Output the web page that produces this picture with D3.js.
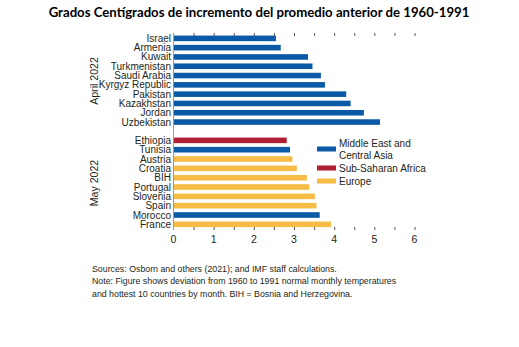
<!DOCTYPE html>
<html>
<head>
<meta charset="utf-8">
<script src="https://cdn.jsdelivr.net/npm/d3@7"></script>
<style>
  html, body { margin: 0; padding: 0; background: #fff; }
  svg { display: block; }
  .lbl { font-family: "Liberation Sans Narrow", "Arial Narrow", "Liberation Sans", sans-serif; fill: #231f20; }
</style>
</head>
<body>
<svg id="chart" width="519" height="347"></svg>
<script>
// Countries and warming values (°C above 1960–1991 average)
const aprilCountries = ["Israel", "Armenia", "Kuwait", "Turkmenistan", "Saudi Arabia",
  "Kyrgyz Republic", "Pakistan", "Kazakhstan", "Jordan", "Uzbekistan"];
const aprilValues = [2.55, 2.67, 3.35, 3.46, 3.67, 3.77, 4.30, 4.41, 4.74, 5.14];
const aprilRegions = ["mecA", "mecA", "mecA", "mecA", "mecA", "mecA", "mecA", "mecA", "mecA", "mecA"];

const mayCountries = ["Ethiopia", "Tunisia", "Austria", "Croatia", "BIH",
  "Portugal", "Slovenia", "Spain", "Morocco", "France"];
const mayValues = [2.82, 2.90, 2.96, 3.07, 3.32, 3.38, 3.52, 3.56, 3.64, 3.92];
const mayRegions = ["ssa", "mecA", "eur", "eur", "eur", "eur", "eur", "eur", "mecA", "eur"];

const regionKeys = ["mecA", "ssa", "eur"];
const regionNames = [["Middle East and", "Central Asia"], ["Sub-Saharan Africa"], ["Europe"]];
const regionColors = ["#0b5aa8", "#b01f33", "#f6bc45"];

const panelNames = ["April 2022", "May 2022"];
const xTicks = [0, 1, 2, 3, 4, 5, 6];
const titleText = "Grados Centígrados de incremento del promedio anterior de 1960-1991";
const noteLines = [
  "Sources: Osborn and others (2021); and IMF staff calculations.",
  "Note: Figure shows deviation from 1960 to 1991 normal monthly temperatures",
  "and hottest 10 countries by month. BIH = Bosnia and Herzegovina."
];

const svg = d3.select("#chart");
const color = d3.scaleOrdinal().domain(regionKeys).range(regionColors);

const x = d3.scaleLinear().domain([0, 6]).range([173.5, 414.5]);

const panels = [
  { name: panelNames[0], countries: aprilCountries, values: aprilValues, regions: aprilRegions, range: [33.7, 126.7], labelY: 81 },
  { name: panelNames[1], countries: mayCountries, values: mayValues, regions: mayRegions, range: [135.7, 229.0], labelY: 183 }
];

// Title
svg.append("text")
  .attr("x", 259).attr("y", 17)
  .attr("text-anchor", "middle")
  .style("font-family", "Lato, 'Open Sans', sans-serif")
  .style("font-weight", "bold")
  .style("font-size", "13.2px")
  .style("fill", "#000")
  .text(titleText);

panels.forEach(p => {
  const y = d3.scaleBand().domain(p.countries).range(p.range).paddingInner(0.4).paddingOuter(0.2);
  const rows = p.countries.map((c, i) => ({ c, v: p.values[i], r: p.regions[i] }));

  svg.append("g").selectAll("rect").data(rows).join("rect")
    .attr("x", x(0))
    .attr("y", d => y(d.c))
    .attr("width", d => x(d.v) - x(0))
    .attr("height", y.bandwidth())
    .attr("fill", d => color(d.r));

  // Category labels
  svg.append("g").selectAll("text").data(rows).join("text")
    .attr("class", "lbl")
    .attr("x", x(0) - 2.5)
    .attr("y", d => y(d.c) + y.bandwidth() / 2)
    .attr("dy", "0.35em")
    .attr("text-anchor", "end")
    .style("font-size", "10px")
    .text(d => d.c);

  // Panel label, rotated
  svg.append("text")
    .attr("class", "lbl")
    .attr("transform", `translate(98,${p.labelY}) rotate(-90)`)
    .attr("text-anchor", "middle")
    .style("font-size", "10.6px")
    .text(p.name);
});

// Vertical zero line
svg.append("line")
  .attr("x1", x(0)).attr("x2", x(0))
  .attr("y1", 33).attr("y2", 230)
  .attr("stroke", "#9a9a9a").attr("stroke-width", 1);

// Half-unit tick marks along the top and bottom
const halfTicks = d3.range(0.5, 6.01, 0.5);
const topAxis = svg.append("g").attr("transform", "translate(0,33)")
  .call(d3.axisTop(x).tickValues(halfTicks).tickSize(-3).tickFormat(""));
topAxis.select(".domain").remove();
topAxis.selectAll("line").attr("stroke", "#555");

const botAxis = svg.append("g").attr("transform", "translate(0,230)")
  .call(d3.axisBottom(x).tickValues(halfTicks).tickSize(-3).tickFormat(""));
botAxis.select(".domain").remove();
botAxis.selectAll("line").attr("stroke", "#555");

// Integer labels on the bottom axis
svg.append("g").selectAll("text").data(xTicks).join("text")
  .attr("class", "lbl")
  .attr("x", d => x(d))
  .attr("y", 239)
  .attr("dy", "0.35em")
  .attr("text-anchor", "middle")
  .style("font-size", "10.5px")
  .text(d => d);

// Legend
const legend = svg.append("g");
let ly = 143;
regionKeys.forEach((k, i) => {
  const lines = regionNames[i];
  const swatchY = ly + (lines.length - 1) * 12 / 2;
  legend.append("rect")
    .attr("x", 317).attr("y", swatchY - 2.5)
    .attr("width", 19).attr("height", 5)
    .attr("fill", color(k));
  lines.forEach((t, j) => {
    legend.append("text")
      .attr("class", "lbl")
      .attr("x", 339).attr("y", ly + j * 12)
      .attr("dy", "0.35em")
      .style("font-size", "10px")
      .text(t);
  });
  ly += lines.length * 12 + 1;
});

// Source and note
svg.append("g").selectAll("text").data(noteLines).join("text")
  .attr("class", "lbl")
  .attr("x", 92)
  .attr("y", (d, i) => 269 + i * 12.3)
  .attr("dy", "0.35em")
  .style("font-size", "8.8px")
  .text(d => d);
</script>
</body>
</html>
